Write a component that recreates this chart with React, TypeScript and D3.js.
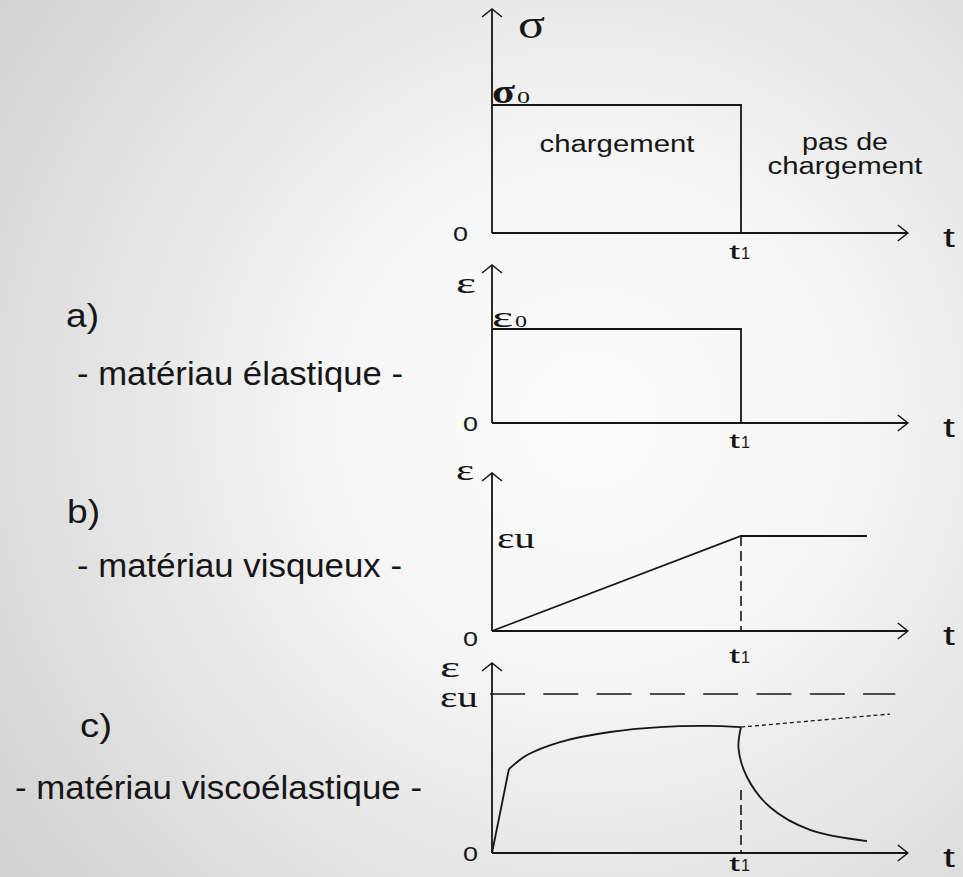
import React from "react";
import * as d3 from "d3";

// ---- data (time in units of t1, values in units of the reference level) ----
const loadT = [0, 1, 1];
const loadV = [1, 1, 0];
const elasticT = [0, 1, 1];
const elasticV = [1, 1, 0];
const viscousT = [0, 1, 1.506];
const viscousV = [0, 1, 1];
const veRiseT = [0, 0.068];
const veRiseV = [0, 0.528];
const veCreepT = [0.068, 0.141, 0.273, 0.474, 0.675, 0.863, 1.0];
const veCreepV = [0.528, 0.616, 0.698, 0.761, 0.792, 0.799, 0.792];
const veRecoverT = [1.0, 0.99, 1.024, 1.116, 1.277, 1.506];
const veRecoverV = [0.792, 0.66, 0.478, 0.289, 0.145, 0.075];
const veDottedT = [1.0, 1.598];
const veDottedV = [0.792, 0.874];
const axisEndT = 1.67;
const caseLetters = ["a)", "b)", "c)"];
const caseNames = ["- matériau élastique -", "- matériau visqueux -", "- matériau viscoélastique -"];

const W = 963;
const H = 877;
const INK = "#161616";

const x = d3.scaleLinear().domain([0, 1]).range([492, 741]);

// panel layout: zero line, unit level, arrow top
const panels = [
  { y0: 233, y1: 105, top: 9 },
  { y0: 423, y1: 329, top: 265 },
  { y0: 631, y1: 536, top: 473 },
  { y0: 853, y1: 694, top: 663 },
];
const ys = panels.map((p) => d3.scaleLinear().domain([0, 1]).range([p.y0, p.y1]));

const zip = (a: number[], b: number[]) => a.map((t, i) => [t, b[i]] as [number, number]);

function mk(yS: d3.ScaleLinear<number, number>, curve: any = d3.curveLinear) {
  return d3
    .line<[number, number]>()
    .x((d) => x(d[0]))
    .y((d) => yS(d[1]))
    .curve(curve);
}

function Axes({ p }: { p: { y0: number; top: number } }) {
  const ox = x(0);
  const ex = x(axisEndT);
  return (
    <g stroke={INK} strokeWidth={1.8} fill="none">
      <line x1={ox} y1={p.y0} x2={ox} y2={p.top} />
      <polyline points={`${ox - 10},${p.top + 8} ${ox},${p.top} ${ox + 10},${p.top + 8}`} strokeWidth={1.5} />
      <line x1={ox} y1={p.y0} x2={ex} y2={p.y0} />
      <polyline points={`${ex - 10},${p.y0 - 8} ${ex},${p.y0} ${ex - 10},${p.y0 + 8}`} strokeWidth={1.5} />
    </g>
  );
}

const SANS = "'Liberation Sans', Arial, sans-serif";
const SERIF = "'Liberation Serif', 'Times New Roman', serif";

function T1({ y }: { y: number }) {
  return (
    <g fill={INK} fontFamily={SANS}>
      <text x={729} y={y} fontSize={21} textLength={11} lengthAdjust="spacingAndGlyphs">t</text>
      <text x={741} y={y} fontSize={16} textLength={9} lengthAdjust="spacingAndGlyphs">1</text>
    </g>
  );
}

function Tlabel({ y0 }: { y0: number }) {
  return (
    <text x={943} y={y0 + 14} fontSize={27} fontFamily={SANS} fill={INK} textLength={12} lengthAdjust="spacingAndGlyphs">t</text>
  );
}

function Zero({ xx, y }: { xx: number; y: number }) {
  return (
    <text x={xx} y={y} fontSize={21} fontFamily={SANS} fill={INK} textLength={15} lengthAdjust="spacingAndGlyphs">0</text>
  );
}

export default function App() {
  const dash = "10 5";
  return (
    <svg width={W} height={H} style={{ position: "absolute", left: 0, top: 0 }} xmlns="http://www.w3.org/2000/svg">
      <defs>
        <radialGradient id="bg" gradientUnits="userSpaceOnUse" cx={590} cy={420} r={720}>
          <stop offset="0" stopColor="#fcfcfc" />
          <stop offset="0.35" stopColor="#f6f6f6" />
          <stop offset="1" stopColor="#d3d3d3" />
        </radialGradient>
      </defs>
      <rect x={0} y={0} width={W} height={H} fill="url(#bg)" />

      {panels.map((p, i) => (
        <Axes key={i} p={p} />
      ))}

      <g stroke={INK} strokeWidth={1.8} fill="none">
        {/* panel 1: loading */}
        <path d={mk(ys[0])(zip(loadT, loadV)) || ""} />
        {/* panel 2: elastic */}
        <path d={mk(ys[1])(zip(elasticT, elasticV)) || ""} />
        {/* panel 3: viscous */}
        <path d={mk(ys[2])(zip(viscousT, viscousV)) || ""} />
        <line x1={x(1)} y1={ys[2](1)} x2={x(1)} y2={ys[2](0)} strokeDasharray={dash} strokeWidth={1.6} />
        {/* panel 4: viscoelastic */}
        <line x1={x(0) - 2} y1={ys[3](1)} x2={x(1.62)} y2={ys[3](1)} strokeDasharray="35 18.3" strokeWidth={1.6} />
        <path d={mk(ys[3])(zip(veRiseT, veRiseV)) || ""} />
        <path d={mk(ys[3], d3.curveCatmullRom)(zip(veCreepT, veCreepV)) || ""} />
        <path d={mk(ys[3], d3.curveCatmullRom)(zip(veRecoverT, veRecoverV)) || ""} />
        <path d={mk(ys[3])(zip(veDottedT, veDottedV)) || ""} strokeDasharray="4 3" strokeWidth={1.3} />
        <line x1={x(1)} y1={790} x2={x(1)} y2={ys[3](0)} strokeDasharray={dash} strokeWidth={1.6} />
      </g>

      {/* sans labels */}
      <g fill={INK} fontFamily={SANS}>
        <text x={617} y={152} fontSize={23} textAnchor="middle" textLength={155} lengthAdjust="spacingAndGlyphs">chargement</text>
        <text x={845} y={150} fontSize={23} textAnchor="middle" textLength={86} lengthAdjust="spacingAndGlyphs">pas de</text>
        <text x={845} y={174} fontSize={23} textAnchor="middle" textLength={155} lengthAdjust="spacingAndGlyphs">chargement</text>

        <text x={66} y={327} fontSize={34} textLength={33} lengthAdjust="spacingAndGlyphs">{caseLetters[0]}</text>
        <text x={77} y={385} fontSize={34} textLength={326} lengthAdjust="spacingAndGlyphs">{caseNames[0]}</text>
        <text x={67} y={523} fontSize={34} textLength={33} lengthAdjust="spacingAndGlyphs">{caseLetters[1]}</text>
        <text x={77} y={577} fontSize={34} textLength={325} lengthAdjust="spacingAndGlyphs">{caseNames[1]}</text>
        <text x={80} y={737} fontSize={34} textLength={32} lengthAdjust="spacingAndGlyphs">{caseLetters[2]}</text>
        <text x={15} y={799} fontSize={34} textLength={407} lengthAdjust="spacingAndGlyphs">{caseNames[2]}</text>
      </g>

      <Zero xx={453} y={241} />
      <Zero xx={463} y={431} />
      <Zero xx={463} y={646} />
      <Zero xx={463} y={861} />

      {panels.map((p, i) => (
        <Tlabel key={i} y0={p.y0} />
      ))}
      <T1 y={259} />
      <T1 y={448} />
      <T1 y={663} />
      <T1 y={871} />

      {/* greek labels */}
      <g fill={INK} fontFamily={SERIF}>
        <text x={518} y={38} fontSize={40} textLength={27} lengthAdjust="spacingAndGlyphs">σ</text>
        <text x={492} y={103} fontSize={33} fontWeight="bold" textLength={23} lengthAdjust="spacingAndGlyphs">σ</text>
        <text x={517} y={103} fontSize={17} textLength={13} lengthAdjust="spacingAndGlyphs">0</text>

        <text x={456} y={293} fontSize={30} textLength={20} lengthAdjust="spacingAndGlyphs">ε</text>
        <text x={492} y={327} fontSize={30} textLength={21} lengthAdjust="spacingAndGlyphs">ε</text>
        <text x={515} y={327} fontSize={17} textLength={12} lengthAdjust="spacingAndGlyphs">0</text>

        <text x={456} y={480} fontSize={30} textLength={18} lengthAdjust="spacingAndGlyphs">ε</text>
        <text x={497} y={548} fontSize={30} textLength={38} lengthAdjust="spacingAndGlyphs">εu</text>

        <text x={440} y={677} fontSize={30} textLength={20} lengthAdjust="spacingAndGlyphs">ε</text>
        <text x={440} y={707} fontSize={30} textLength={38} lengthAdjust="spacingAndGlyphs">εu</text>
      </g>
    </svg>
  );
}
